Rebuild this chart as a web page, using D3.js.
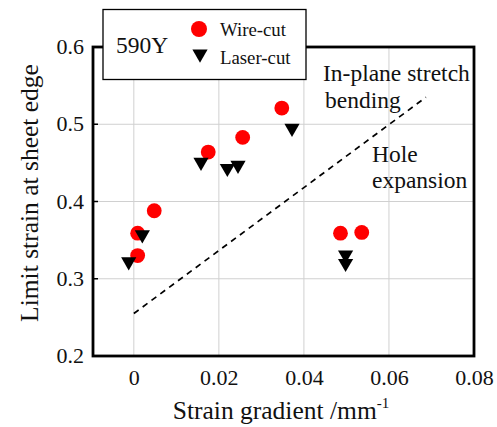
<!DOCTYPE html>
<html><head><meta charset="utf-8">
<script src="https://cdn.jsdelivr.net/npm/d3@7"></script>
<style>body{margin:0;background:#fff}svg{display:block}text{font-family:"Liberation Serif","Times New Roman",serif}</style>
</head><body><svg id="c" width="497" height="427"></svg>
<script>
const wireX = [0.0348, 0.0256, 0.0175, 0.0048, 0.0009, 0.0009, 0.0486, 0.0536];
const wireY = [0.521, 0.483, 0.464, 0.388, 0.359, 0.330, 0.359, 0.360];
const laserX = [0.0372, 0.0158, 0.0220, 0.0245, 0.0020, -0.0012, 0.0498, 0.0498];
const laserY = [0.495, 0.451, 0.443, 0.447, 0.357, 0.322, 0.331, 0.320];
const lineX = [0, 0.0687];
const lineY = [0.255, 0.535];
const xTicks = [0, 0.02, 0.04, 0.06, 0.08];
const xTickLabels = ["0", "0.02", "0.04", "0.06", "0.08"];
const yTicks = [0.2, 0.3, 0.4, 0.5, 0.6];
const yTickLabels = ["0.2", "0.3", "0.4", "0.5", "0.6"];

const svg = d3.select("#c");
const L = 93, R = 474, T = 47, B = 356;
const x = d3.scaleLinear().domain([-0.0096, 0.08]).range([L, R]);
const y = d3.scaleLinear().domain([0.2, 0.6]).range([B, T]);

// grid
svg.append("g").selectAll("line").data(xTicks).join("line")
  .attr("x1", d => x(d)).attr("x2", d => x(d)).attr("y1", T).attr("y2", B)
  .attr("stroke", "#d0d0d0").attr("stroke-width", 1);
svg.append("g").selectAll("line").data(yTicks).join("line")
  .attr("x1", L).attr("x2", R).attr("y1", d => y(d)).attr("y2", d => y(d))
  .attr("stroke", "#d0d0d0").attr("stroke-width", 1);

// axes
const xAx = svg.append("g").attr("transform", `translate(0,${B})`)
  .call(d3.axisBottom(x).tickValues(xTicks).tickFormat((d, i) => xTickLabels[i]).tickSize(0).tickPadding(13));
const yAx = svg.append("g").attr("transform", `translate(${L},0)`)
  .call(d3.axisLeft(y).tickValues(yTicks).tickFormat((d, i) => yTickLabels[i]).tickSize(0).tickPadding(9));
[xAx, yAx].forEach(a => { a.select(".domain").remove(); a.selectAll("text").attr("font-size", 22).attr("fill", "#111").style("font-family", '"Liberation Serif",serif'); });
yAx.selectAll("text").attr("dy", "0.3em");
// inward tick marks on left
svg.append("g").selectAll("line").data(yTicks).join("line")
  .attr("x1", L).attr("x2", L + 5).attr("y1", d => y(d)).attr("y2", d => y(d)).attr("stroke", "#000").attr("stroke-width", 1.5);

// dashed line
svg.append("line").attr("x1", x(lineX[0])).attr("y1", y(lineY[0])).attr("x2", x(lineX[1])).attr("y2", y(lineY[1]))
  .attr("stroke", "#000").attr("stroke-width", 1.7).attr("stroke-dasharray", "6,5");

// frame
svg.append("rect").attr("x", L).attr("y", T).attr("width", R - L).attr("height", B - T)
  .attr("fill", "none").attr("stroke", "#000").attr("stroke-width", 2.8);

// points
svg.append("g").selectAll("circle").data(wireX).join("circle")
  .attr("cx", d => x(d)).attr("cy", (d, i) => y(wireY[i])).attr("r", 7.4).attr("fill", "#ff0000");
const tri = d3.symbol().type(d3.symbolTriangle).size(100);
svg.append("g").selectAll("path").data(laserX).join("path")
  .attr("d", tri).attr("fill", "#000")
  .attr("transform", (d, i) => `translate(${x(d)},${y(laserY[i])}) rotate(180)`);

// annotations
const ann = [["In-plane stretch", 323, 81], ["bending", 325, 108], ["Hole", 372, 162], ["expansion", 372, 188]];
svg.append("g").selectAll("text").data(ann).join("text")
  .attr("x", d => d[1]).attr("y", d => d[2]).attr("font-size", 23.5).attr("fill", "#111").text(d => d[0]);

// legend
svg.append("rect").attr("x", 103).attr("y", 9.5).attr("width", 203).attr("height", 70)
  .attr("fill", "#fff").attr("stroke", "#000").attr("stroke-width", 1.3);
svg.append("text").attr("x", 116).attr("y", 53).attr("font-size", 23.5).attr("fill", "#111").text("590Y");
svg.append("circle").attr("cx", 199).attr("cy", 29).attr("r", 8).attr("fill", "#ff0000");
svg.append("path").attr("d", tri).attr("fill", "#000").attr("transform", "translate(200,54) rotate(180)");
svg.append("text").attr("x", 220).attr("y", 36).attr("font-size", 18.8).attr("fill", "#111").text("Wire-cut");
svg.append("text").attr("x", 220).attr("y", 64).attr("font-size", 18.8).attr("fill", "#111").text("Laser-cut");

// axis titles
svg.append("text").attr("transform", "translate(38,193) rotate(-90)").attr("text-anchor", "middle")
  .attr("font-size", 25.5).attr("fill", "#111").text("Limit strain at sheet edge");
const xt = svg.append("text").attr("x", 281).attr("y", 419).attr("text-anchor", "middle").attr("font-size", 25.5).attr("fill", "#111");
xt.append("tspan").text("Strain gradient /mm");
xt.append("tspan").attr("font-size", 15).attr("dy", -11).text("-1");
</script></body></html>
